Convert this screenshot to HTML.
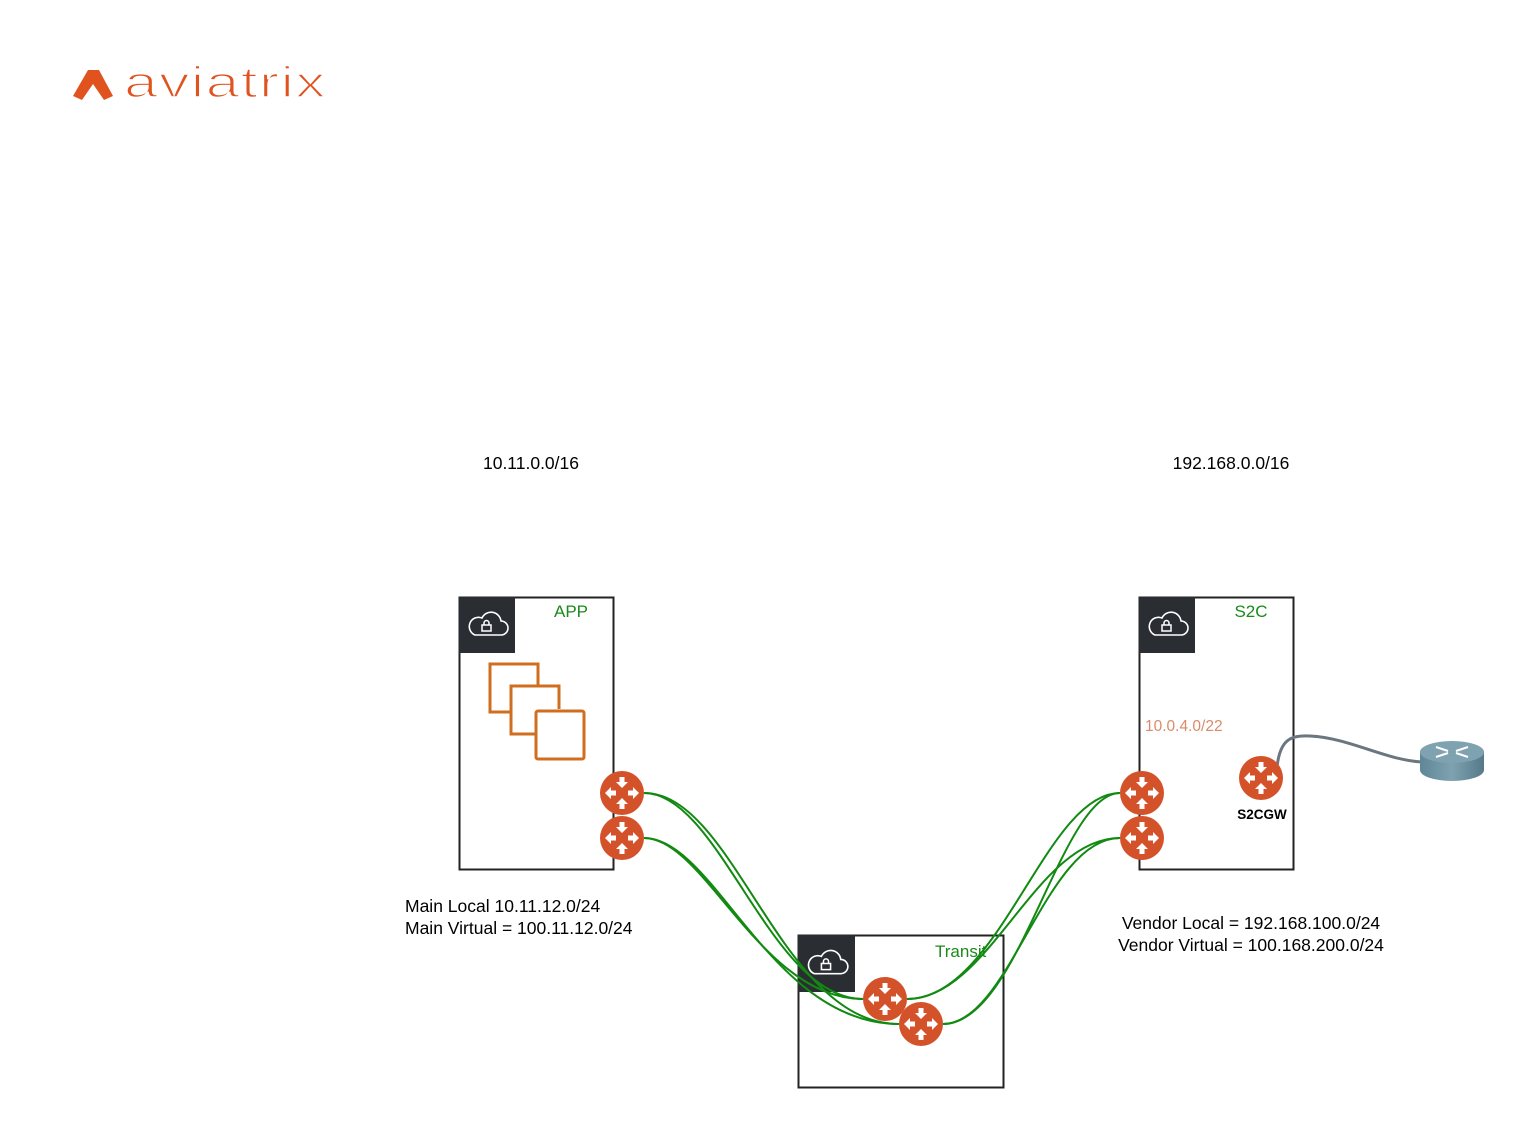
<!DOCTYPE html>
<html><head><meta charset="utf-8"><style>
html,body{margin:0;padding:0;background:#fff;}
svg{display:block;font-family:"Liberation Sans",sans-serif;}
</style></head><body>
<svg width="1525" height="1129" viewBox="0 0 1525 1129" xmlns="http://www.w3.org/2000/svg">
<defs>
<symbol id="rt" viewBox="-22 -22 44 44" overflow="visible">
<circle r="22" fill="#d4522a"/>
<g fill="#fff">
<!-- top arrow pointing down -->
<polygon points="-2.5,-16 2.5,-16 2.5,-11 6,-11 0,-5 -6,-11 -2.5,-11"/>
<!-- bottom arrow pointing up -->
<polygon points="-2.5,16 2.5,16 2.5,11 6,11 0,5 -6,11 -2.5,11"/>
<!-- left arrow pointing left -->
<polygon points="-6,-2.5 -6,2.5 -11,2.5 -11,6 -17,0 -11,-6 -11,-2.5"/>
<!-- right arrow pointing right -->
<polygon points="6,-2.5 6,2.5 11,2.5 11,6 17,0 11,-6 11,-2.5"/>
</g>
</symbol>
<symbol id="cl" viewBox="0 0 56 56">
<rect width="56" height="56" fill="#2a2d31"/>
<path d="M16 38 h26 a7 7 0 0 0 0-14 a10 10 0 0 0-19-3 a8 8 0 0 0-7 17z" fill="none" stroke="#fff" stroke-width="1.6"/>
<rect x="23" y="28" width="9" height="6" fill="none" stroke="#fff" stroke-width="1.5"/>
<path d="M25 28 v-2 a2.5 2.5 0 0 1 5 0 v2" fill="none" stroke="#fff" stroke-width="1.5"/>
</symbol>
<linearGradient id="cyl" x1="0" x2="1"><stop offset="0" stop-color="#5f8797"/><stop offset="0.5" stop-color="#7fa2b0"/><stop offset="1" stop-color="#55798a"/></linearGradient>
</defs>

<!-- logo -->
<polygon points="73,96 88,70 99,70 113,96 104,100 93,84 82,100" fill="#e0531f"/>
<text x="124" y="97" font-size="44" fill="#e0531f" stroke="#fff" stroke-width="1.6" letter-spacing="1" textLength="203" lengthAdjust="spacingAndGlyphs">aviatrix</text>

<text x="531" y="469" font-size="17.5" text-anchor="middle">10.11.0.0/16</text>
<text x="1231" y="469" font-size="17.5" text-anchor="middle">192.168.0.0/16</text>

<!-- boxes -->
<rect x="459.5" y="597.5" width="154" height="272" fill="none" stroke="#232323" stroke-width="2"/>
<use href="#cl" x="459" y="597" width="56" height="56"/>
<text x="571" y="617" font-size="17" fill="#1a8a1a" text-anchor="middle">APP</text>
<g fill="none" stroke="#d06e1f" stroke-width="3">
<path d="M512 712 h-22 v-48 h48 v23"/>
<path d="M535 734 h-24 v-48 h48 v23"/>
<rect x="536" y="711" width="48" height="48" rx="2"/>
</g>

<rect x="1139.5" y="597.5" width="154" height="272" fill="none" stroke="#232323" stroke-width="2"/>
<use href="#cl" x="1139" y="597" width="56" height="56"/>
<text x="1251" y="617" font-size="17" fill="#1a8a1a" text-anchor="middle">S2C</text>
<text x="1145" y="731" font-size="15.5" fill="#d98a6a">10.0.4.0/22</text>

<rect x="798.5" y="935.5" width="205" height="152" fill="none" stroke="#232323" stroke-width="2"/>
<use href="#cl" x="798" y="935" width="57" height="57"/>
<text x="935" y="957" font-size="17" fill="#1a8a1a">Transit</text>

<!-- green connections -->
<g fill="none" stroke="#128a12" stroke-width="2">
<path d="M644 793 C720 793 770 999 863 999"/>
<path d="M644 793 C735 793 780 1024 899 1024"/>
<path d="M644 838 C705 838 760 999 863 999"/>
<path d="M644 838 C715 838 770 1024 899 1024"/>
<path d="M1120 793 C1045 793 1000 999 907 999"/>
<path d="M1120 793 C1060 793 1020 1024 943 1024"/>
<path d="M1120 838 C1035 838 990 999 907 999"/>
<path d="M1120 838 C1045 838 1010 1024 943 1024"/>
</g>

<!-- s2c cable -->
<path d="M1277 767 C1280 740 1290 735 1310 736 C1350 738 1385 760 1422 762" fill="none" stroke="#6b7680" stroke-width="3"/>
<!-- router device -->
<path d="M1420 752 v18 a32 11 0 0 0 64 0 v-18z" fill="url(#cyl)"/>
<ellipse cx="1452" cy="752" rx="32" ry="11" fill="#7fa2b0"/>
<g stroke="#fff" stroke-width="2">
<line x1="1436" y1="747" x2="1448" y2="751"/><line x1="1468" y1="757" x2="1456" y2="753"/>
<line x1="1468" y1="747" x2="1456" y2="751"/><line x1="1436" y1="757" x2="1448" y2="753"/>
</g>

<!-- routers -->
<use href="#rt" x="600" y="771" width="44" height="44"/>
<use href="#rt" x="600" y="816" width="44" height="44"/>
<use href="#rt" x="1120" y="771" width="44" height="44"/>
<use href="#rt" x="1120" y="816" width="44" height="44"/>
<use href="#rt" x="863" y="977" width="44" height="44"/>
<use href="#rt" x="899" y="1002" width="44" height="44"/>
<use href="#rt" x="1239" y="756" width="44" height="44"/>
<text x="1262" y="819" font-size="13.5" font-weight="bold" text-anchor="middle">S2CGW</text>

<text x="405" y="912" font-size="17.5">Main Local 10.11.12.0/24</text>
<text x="405" y="934" font-size="17.5">Main Virtual = 100.11.12.0/24</text>
<text x="1251" y="929" font-size="17.5" text-anchor="middle">Vendor Local = 192.168.100.0/24</text>
<text x="1251" y="951" font-size="17.5" text-anchor="middle">Vendor Virtual = 100.168.200.0/24</text>
</svg>
</body></html>
